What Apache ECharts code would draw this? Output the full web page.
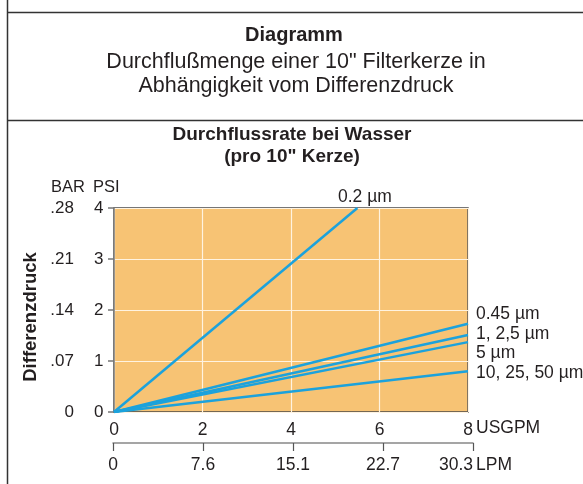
<!DOCTYPE html>
<html>
<head>
<meta charset="utf-8">
<script src="https://cdn.jsdelivr.net/npm/echarts@6/dist/echarts.min.js"></script>
<style>
html,body{margin:0;padding:0;background:#fff;}
#c{width:583px;height:484px;}
</style>
</head>
<body>
<div id="c"></div>
<script>
// ---- data ----
var mainTitle = 'Diagramm';
var subTitleLines = ['Durchflußmenge einer 10" Filterkerze in', 'Abhängigkeit vom Differenzdruck'];
var chartTitleLines = ['Durchflussrate bei Wasser', '(pro 10" Kerze)'];
var yAxisTitle = 'Differenzdruck';
var psiTicks = ['0', '1', '2', '3', '4'];
var barTicks = ['0', '.07', '.14', '.21', '.28'];
var gpmTicks = ['0', '2', '4', '6', '8'];
var lpmTicks = ['0', '7.6', '15.1', '22.7', '30.3'];
var seriesNames = ['0.2 µm', '0.45 µm', '1, 2,5 µm', '5 µm', '10, 25, 50 µm'];
var flowGPM = [
  [0, 5.5],
  [0, 8],
  [0, 8],
  [0, 8],
  [0, 8]
];
var pressurePSI = [
  [0, 4],
  [0, 1.73],
  [0, 1.51],
  [0, 1.37],
  [0, 0.80]
];

var chart = echarts.init(document.getElementById('c'), null, {renderer: 'canvas'});
var FONT = '"Liberation Sans", Arial, sans-serif';
var TXT = '#231f20';

var series = seriesNames.map(function (n, i) {
  return {
    name: n,
    type: 'line',
    xAxisIndex: 0,
    yAxisIndex: 0,
    symbol: 'none',
    clip: true,
    lineStyle: {color: '#1ca2dc', width: 2.5},
    data: flowGPM[i].map(function (x, j) { return [x, pressurePSI[i][j]]; })
  };
});

var labelPos = [
  {x: 338, y: 197},
  {x: 476, y: 314},
  {x: 476, y: 334},
  {x: 476, y: 353},
  {x: 476, y: 373}
];

var graphics = [
  {type: 'line', shape: {x1: 7.5, y1: 0, x2: 7.5, y2: 484}, style: {stroke: '#333', lineWidth: 1.5}},
  {type: 'line', shape: {x1: 7, y1: 12.5, x2: 583, y2: 12.5}, style: {stroke: '#333', lineWidth: 1.5}},
  {type: 'line', shape: {x1: 7, y1: 120.5, x2: 583, y2: 120.5}, style: {stroke: '#333', lineWidth: 1.5}},
  {type: 'text', x: 294, y: 35, style: {text: mainTitle, font: 'bold 20px ' + FONT, fill: TXT, textAlign: 'center', textVerticalAlign: 'middle'}},
  {type: 'text', x: 296, y: 62, style: {text: subTitleLines[0], font: '21.5px ' + FONT, fill: TXT, textAlign: 'center', textVerticalAlign: 'middle'}},
  {type: 'text', x: 296, y: 86, style: {text: subTitleLines[1], font: '21.5px ' + FONT, fill: TXT, textAlign: 'center', textVerticalAlign: 'middle'}},
  {type: 'text', x: 292, y: 135, style: {text: chartTitleLines[0], font: 'bold 19px ' + FONT, fill: TXT, textAlign: 'center', textVerticalAlign: 'middle'}},
  {type: 'text', x: 292, y: 157, style: {text: chartTitleLines[1], font: 'bold 19px ' + FONT, fill: TXT, textAlign: 'center', textVerticalAlign: 'middle'}},
  {type: 'text', x: 51, y: 187, style: {text: 'BAR', font: '16.5px ' + FONT, fill: TXT, textAlign: 'left', textVerticalAlign: 'middle'}},
  {type: 'text', x: 93, y: 187, style: {text: 'PSI', font: '16.5px ' + FONT, fill: TXT, textAlign: 'left', textVerticalAlign: 'middle'}},
  {type: 'text', x: 31, y: 317, rotation: Math.PI / 2, style: {text: yAxisTitle, font: 'bold 18.5px ' + FONT, fill: TXT, textAlign: 'center', textVerticalAlign: 'middle'}},
  {type: 'text', x: 476, y: 428, style: {text: 'USGPM', font: '17.5px ' + FONT, fill: TXT, textAlign: 'left', textVerticalAlign: 'middle'}},
  {type: 'text', x: 476, y: 465, style: {text: 'LPM', font: '17.5px ' + FONT, fill: TXT, textAlign: 'left', textVerticalAlign: 'middle'}}
];
seriesNames.forEach(function (n, i) {
  graphics.push({type: 'text', x: labelPos[i].x, y: labelPos[i].y, style: {text: n, font: '17.5px ' + FONT, fill: TXT, textAlign: 'left', textVerticalAlign: 'middle'}});
});

var option = {
  animation: false,
  backgroundColor: '#fff',
  grid: [
    {left: 114, right: 115, top: 208, bottom: 72, show: true, backgroundColor: '#f7c374', borderColor: '#4a4a4a', borderWidth: 1.5, containLabel: false},
    {left: 113, right: 110, top: 433, bottom: 41, show: false}
  ],
  xAxis: [
    {
      gridIndex: 0, type: 'value', min: 0, max: 8, interval: 2,
      axisLine: {show: false}, axisTick: {show: false},
      axisLabel: {margin: 9, fontFamily: FONT, fontSize: 17.5, color: TXT,
        formatter: function (v) { return gpmTicks[Math.round(v / 2)]; }},
      splitLine: {show: true, lineStyle: {color: '#fff3e0', width: 1.2}}
    },
    {
      gridIndex: 1, type: 'value', min: 0, max: 4, interval: 1, position: 'bottom',
      axisLine: {show: true, lineStyle: {color: '#888', width: 1.5}},
      axisTick: {show: true, length: 8, lineStyle: {color: '#555', width: 1.2}},
      axisLabel: {margin: 13, fontFamily: FONT, fontSize: 17.5, color: TXT, alignMaxLabel: 'right',
        formatter: function (v) { return lpmTicks[Math.round(v)]; }},
      splitLine: {show: false}
    }
  ],
  yAxis: [
    {
      gridIndex: 0, type: 'value', min: 0, max: 4, interval: 1, position: 'left', offset: 26,
      axisLine: {show: true, lineStyle: {color: '#777', width: 1.5}},
      axisTick: {show: true, length: 6, lineStyle: {color: '#777', width: 1.5}},
      axisLabel: {inside: true, margin: 6, fontFamily: FONT, fontSize: 17, color: TXT,
        formatter: function (v) { return psiTicks[Math.round(v)]; }},
      splitLine: {show: true, lineStyle: {color: '#fff3e0', width: 1.2}}
    },
    {
      gridIndex: 0, type: 'value', min: 0, max: 4, interval: 1, position: 'left', offset: 26,
      axisLine: {show: false}, axisTick: {show: false},
      axisLabel: {margin: 14, fontFamily: FONT, fontSize: 17, color: TXT,
        formatter: function (v) { return barTicks[Math.round(v)]; }},
      splitLine: {show: false}
    },
    {gridIndex: 1, type: 'value', show: false}
  ],
  series: series,
  graphic: graphics
};
chart.setOption(option);
</script>
</body>
</html>
